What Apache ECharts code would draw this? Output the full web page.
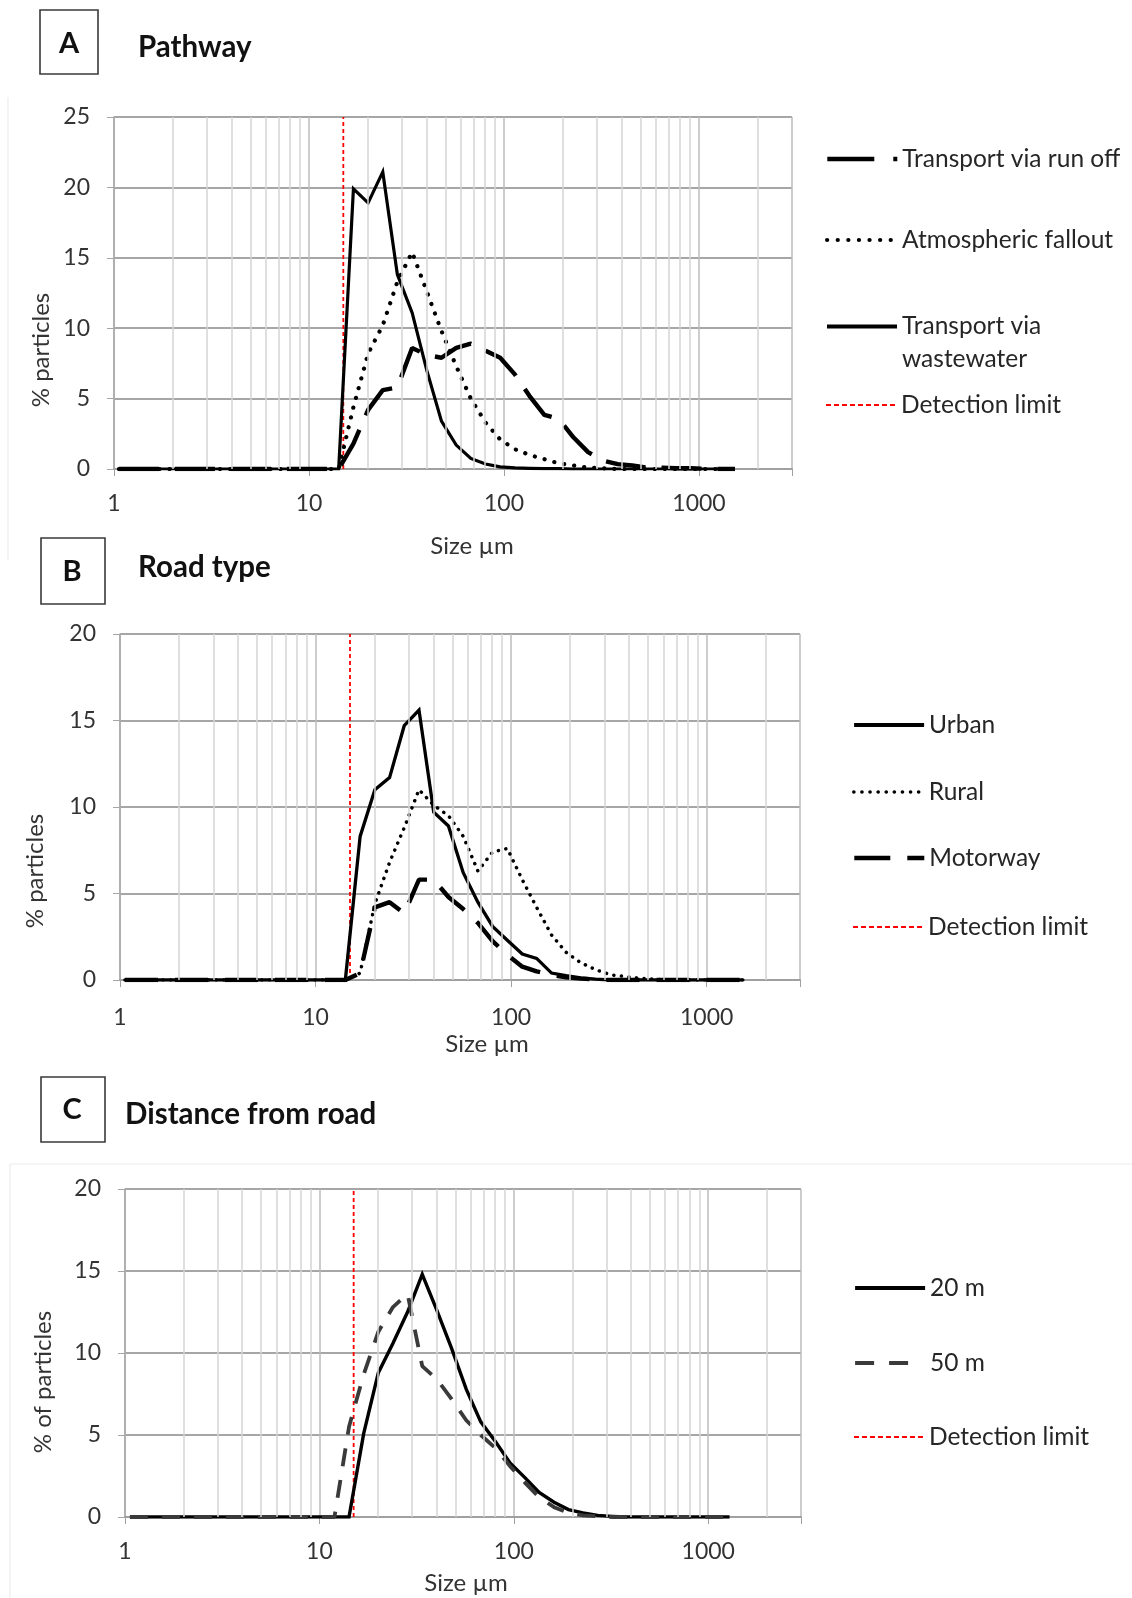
<!DOCTYPE html>
<html>
<head>
<meta charset="utf-8">
<title>Particle size distributions</title>
<script src="https://cdn.jsdelivr.net/npm/echarts@6/dist/echarts.min.js"></script>
<style>
  html, body { margin: 0; padding: 0; background: #fff; }
  #chart { width: 1132px; height: 1598px; }
</style>
</head>
<body>
<div id="chart"></div>
<script>
// size classes in µm (same for all panels)
const sizes = [1.06, 1.26, 1.5, 1.78, 2.11, 2.51, 2.99, 3.55, 4.23, 5.03, 5.98, 7.11, 8.45, 10.05, 11.95,
  14.2, 16.9, 20.1, 23.9, 28.4, 33.8, 40.2, 47.8, 56.9, 67.6, 80.4, 95.6, 114, 135, 161, 191, 227, 270,
  322, 383, 455, 541, 643, 765, 910, 1082, 1287, 1530]

// A - pathway
const runOff = [0, 0, 0, 0, 0, 0, 0, 0, 0, 0, 0, 0, 0, 0, 0,
  0, 1.8, 4.2, 5.6, 5.8, 8.6, 8.1, 7.9, 8.6, 8.9, 8.4, 7.9, 6.7, 5.2, 3.85, 3.55, 2.25, 1.2,
  0.6, 0.35, 0.25, 0.1, 0.1, 0.05, 0.05, 0.02, 0, 0]
const fallout = [0, 0, 0, 0, 0, 0, 0, 0, 0, 0, 0, 0, 0, 0, 0,
  0, 4.4, 8.2, 10.2, 13.3, 15.4, 12.6, 9.8, 7.3, 5.0, 3.3, 2.1, 1.4, 1.0, 0.7, 0.4, 0.25, 0.1,
  0.05, 0, 0, 0, 0, 0, 0, 0, 0, 0]
const wastewater = [0, 0, 0, 0, 0, 0, 0, 0, 0, 0, 0, 0, 0, 0, 0,
  0, 19.9, 18.9, 21.1, 13.8, 11.1, 7.0, 3.4, 1.7, 0.75, 0.35, 0.15, 0.08, 0.05, 0.03, 0.02, 0, 0,
  0, 0, 0, 0, 0, 0, 0, 0, 0, 0]

// B - road type
const urban = [0, 0, 0, 0, 0, 0, 0, 0, 0, 0, 0, 0, 0, 0, 0,
  0, 8.3, 11.0, 11.7, 14.7, 15.6, 9.7, 8.9, 6.2, 4.5, 3.1, 2.3, 1.5, 1.25, 0.4, 0.25, 0.12, 0.05,
  0, 0, 0, 0, 0, 0, 0, 0, 0, 0]
const rural = [0, 0, 0, 0, 0, 0, 0, 0, 0, 0, 0, 0, 0, 0, 0,
  0, 0.4, 4.4, 6.8, 8.8, 11.0, 10.1, 9.5, 8.3, 6.3, 7.4, 7.6, 5.8, 4.2, 2.6, 1.6, 1.0, 0.6,
  0.3, 0.2, 0.1, 0.05, 0, 0, 0, 0, 0, 0]
const motorway = [0, 0, 0, 0, 0, 0, 0, 0, 0, 0, 0, 0, 0, 0, 0,
  0, 0.4, 4.2, 4.5, 3.85, 5.8, 5.8, 4.8, 4.1, 3.3, 2.25, 1.45, 0.77, 0.5, 0.3, 0.15, 0.08, 0.03,
  0, 0, 0, 0, 0, 0, 0, 0, 0, 0]

// C - distance from road (stops at 1287 µm)
const dist20 = [0, 0, 0, 0, 0, 0, 0, 0, 0, 0, 0, 0, 0, 0, 0,
  0, 5.1, 8.8, 10.6, 12.5, 14.8, 12.6, 10.3, 7.8, 5.8, 4.6, 3.3, 2.4, 1.5, 0.9, 0.45, 0.25, 0.1,
  0.04, 0, 0, 0, 0, 0, 0, 0, 0]
const dist50 = [0, 0, 0, 0, 0, 0, 0, 0, 0, 0, 0, 0, 0, 0, 0,
  5.5, 8.7, 11.3, 12.8, 13.6, 9.2, 8.4, 7.2, 5.9, 5.0, 4.2, 3.1, 2.1, 1.2, 0.6, 0.25, 0.1, 0.05,
  0, 0, 0, 0, 0, 0, 0, 0, 0]

const detectionLimit = 15
const xMin = 1
const xMax = 3000
const minorGridX = [2, 3, 4, 5, 6, 7, 8, 9, 20, 30, 40, 50, 60, 70, 80, 90,
  200, 300, 400, 500, 600, 700, 800, 900, 2000]

const FONT = 'Lato'
const TEXT = '#262626'
const pair = vals => vals.map((v, i) => [sizes[i], v])

const panels = [
  { grid: { left: 114, top: 117, width: 678, height: 352 }, yMax: 25, labelMargin: 23 },
  { grid: { left: 120, top: 634, width: 680, height: 346 }, yMax: 20, labelMargin: 26 },
  { grid: { left: 125, top: 1189, width: 676, height: 328 }, yMax: 20, labelMargin: 23 }
]

const solid = w => ({ color: '#000', width: w, type: 'solid', join: 'miter' })
const dotted = (w, gap) => ({ color: '#000', width: w, type: [0.1, gap], cap: 'round' })
const dashed = (w, dash, c) => ({ color: c || '#000', width: w, type: dash, cap: 'butt' })

function lineSeries(name, idx, vals, style) {
  return {
    name: name, type: 'line', xAxisIndex: idx, yAxisIndex: idx,
    data: pair(vals), symbol: 'none', lineStyle: style, z: 4, silent: true
  }
}

function limitSeries(idx, yMax) {
  return {
    name: 'Detection limit', type: 'line', xAxisIndex: idx, yAxisIndex: idx,
    data: [[detectionLimit, 0], [detectionLimit, yMax]], symbol: 'none', z: 3, silent: true,
    lineStyle: { color: '#ff0000', width: 1.8, type: [4, 3] }
  }
}

function gridLineSeries(idx) {
  return {
    type: 'line', xAxisIndex: idx, yAxisIndex: idx, data: [], z: 1, silent: true,
    markLine: {
      silent: true, symbol: 'none', animation: false,
      label: { show: false },
      lineStyle: { color: '#d4d4d4', width: 1.5, type: 'solid' },
      data: minorGridX.map(v => ({ xAxis: v }))
    }
  }
}

// one legend component per entry so every row sits where the original has it
function legendItem(name, left, top, lineStyle, opts) {
  return Object.assign({
    data: [{ name: name, lineStyle: lineStyle || {} }], left: left, top: top,
    orient: 'vertical', padding: 0, itemWidth: 70, itemHeight: 14, itemGap: 0, selectedMode: false,
    itemStyle: { color: 'transparent', opacity: 0, borderWidth: 0 },
    textStyle: { fontFamily: FONT, fontSize: 24.5, color: TEXT, lineHeight: 30 }
  }, opts || {})
}

const series = [
  gridLineSeries(0), gridLineSeries(1), gridLineSeries(2),
  lineSeries('Transport via run off', 0, runOff, dashed(4.4, [40, 16])),
  lineSeries('Atmospheric fallout', 0, fallout, dotted(4.2, 10)),
  lineSeries('Transport via wastewater', 0, wastewater, solid(3.2)),
  limitSeries(0, 25),
  lineSeries('Urban', 1, urban, solid(3.3)),
  lineSeries('Rural', 1, rural, dotted(3.5, 7.5)),
  lineSeries('Motorway', 1, motorway, dashed(4.4, [33, 17])),
  limitSeries(1, 20),
  lineSeries('20 m', 2, dist20, solid(3.4)),
  lineSeries('50 m', 2, dist50, dashed(3.8, [18, 14], '#3a3a3a')),
  limitSeries(2, 20)
]

const limitIcon = { width: 2, type: [5, 3] }
const legends = [
  legendItem('Transport via run off', 825, 144, { width: 4.6, type: [47, 19, 4, 60] }),
  legendItem('Atmospheric fallout', 825, 225, { width: 4.2, type: [0.1, 10.5] }),
  legendItem('Transport via wastewater', 825, 277, { width: 4 }, {
    formatter: () => ' \nTransport via\nwastewater',
    textStyle: { fontFamily: FONT, fontSize: 24.5, color: TEXT, lineHeight: 33 }
  }),
  legendItem('Detection limit', 825, 390, limitIcon),
  legendItem('Urban', 852, 710, { width: 4.2 }),
  legendItem('Rural', 852, 777, { width: 3.6, type: [0.1, 8] }),
  legendItem('Motorway', 852, 843, { width: 4.6, type: [36, 17, 17, 20] }),
  legendItem('Detection limit', 852, 912, limitIcon),
  legendItem('20 m', 853, 1273, { width: 4.2 }),
  legendItem('50 m', 853, 1348, { width: 4.2, type: [19, 15, 19, 40] }),
  legendItem('Detection limit', 853, 1422, limitIcon)
]

const xAxes = panels.map((p, i) => ({
  type: 'log', logBase: 10, gridIndex: i, min: xMin, max: xMax,
  axisLine: { show: true, lineStyle: { color: '#a0a0a0', width: 2 } },
  axisTick: { show: true, length: 7, lineStyle: { color: '#a0a0a0' } },
  axisLabel: {
    fontFamily: FONT, fontSize: 23, color: '#333', margin: p.labelMargin,
    formatter: v => {
      const e = Math.log10(v)
      return Math.abs(e - Math.round(e)) < 1e-6 ? String(Math.round(v)) : ''
    }
  },
  splitLine: { show: true, lineStyle: { color: '#bdbdbd', width: 1.5 } }
}))

const yAxes = panels.map((p, i) => ({
  type: 'value', gridIndex: i, min: 0, max: p.yMax, interval: 5,
  axisLine: { show: true, lineStyle: { color: '#a6a6a6', width: 1.5 } },
  axisTick: { show: true, length: 7, lineStyle: { color: '#a6a6a6' } },
  axisLabel: { fontFamily: FONT, fontSize: 23, color: '#333', margin: 24 },
  splitLine: { show: true, lineStyle: { color: '#a6a6a6', width: 1.8 } }
}))

function box(x, y, w, h, letter, lx, ly) {
  return [
    { type: 'rect', shape: { x: x, y: y, width: w, height: h },
      style: { fill: '#fff', stroke: '#3a3a3a', lineWidth: 1.6 } },
    { type: 'text', x: lx, y: ly,
      style: { text: letter, font: 'bold 29px ' + FONT, fill: '#111', align: 'center', verticalAlign: 'middle' } }
  ]
}

function title(text, x, y) {
  return { type: 'text', x: x, y: y,
    style: { text: text, font: 'bold 29.5px ' + FONT, fill: '#111', align: 'left', verticalAlign: 'middle' } }
}

function axisTitle(text, x, y, vertical) {
  return { type: 'text', x: x, y: y, rotation: vertical ? Math.PI / 2 : 0,
    style: { text: text, font: '24px ' + FONT, fill: '#333', align: 'center', verticalAlign: 'middle' } }
}

// faint outlines of the original chart areas
function faint(x1, y1, x2, y2) {
  return { type: 'line', z: -1, shape: { x1: x1, y1: y1, x2: x2, y2: y2 },
    style: { stroke: '#ececec', lineWidth: 1.2 } }
}

const graphics = [].concat(
  [
    faint(8, 97, 8, 560),
    faint(10, 1164, 1132, 1164),
    faint(10, 1164, 10, 1598)
  ],
  box(40, 10, 58, 64, 'A', 69, 44),
  box(41, 538, 64, 66, 'B', 72, 572),
  box(41, 1077, 64, 65, 'C', 72, 1110),
  [
    title('Pathway', 138, 47),
    title('Road type', 138, 567),
    title('Distance from road', 125, 1114),
    axisTitle('Size µm', 472, 546),
    axisTitle('Size µm', 487, 1044),
    axisTitle('Size µm', 466, 1583),
    axisTitle('% particles', 41, 350, true),
    axisTitle('% particles', 35, 871, true),
    axisTitle('% of particles', 43, 1382, true)
  ]
)

const chart = echarts.init(document.getElementById('chart'), null, { renderer: 'canvas' })
chart.setOption({
  animation: false,
  backgroundColor: '#fff',
  textStyle: { fontFamily: FONT },
  grid: panels.map(p => Object.assign({ containLabel: false }, p.grid)),
  xAxis: xAxes,
  yAxis: yAxes,
  legend: legends,
  series: series,
  graphic: graphics
})
</script>
</body>
</html>
